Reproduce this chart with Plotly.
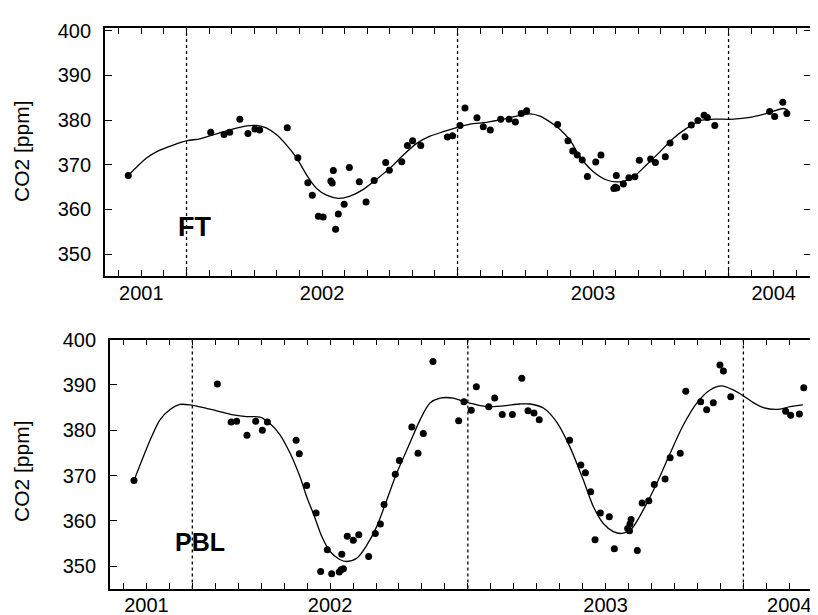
import plotly.graph_objects as go

# x = months relative to the first dotted line
tick_months = list(range(-3, 28))
year_label_months = [-2, 6, 18, 26]
year_labels = ["2001", "2002", "2003", "2004"]
dotted_months = [0, 12, 24]
y_ticks = [350, 360, 370, 380, 390, 400]

ft_x = [-2.58, 1.07, 1.66, 1.91, 2.36, 2.72, 3.03, 3.24, 4.46, 4.93, 5.37, 5.57, 5.84, 6.05,
        6.39, 6.45, 6.50, 6.60, 6.72, 6.98, 7.21, 7.65, 7.95, 8.31, 8.82, 8.98, 9.53, 9.78,
        10.01, 10.37, 11.55, 11.78, 12.11, 12.33, 12.86, 13.14, 13.45, 13.91, 14.28, 14.56,
        14.82, 15.06, 16.43, 16.89, 17.10, 17.30, 17.52, 17.75, 18.12, 18.35, 18.92, 18.98,
        19.05, 19.03, 19.34, 19.59, 19.85, 20.05, 20.55, 20.76, 21.20, 21.41, 22.07, 22.35,
        22.64, 22.92, 23.06, 23.39, 25.82, 26.04, 26.40, 26.58]
ft_y = [367.6, 377.3, 376.8, 377.3, 380.2, 377.0, 378.0, 377.8, 378.3, 371.6, 366.0, 363.2,
        358.5, 358.3, 366.4, 365.9, 368.7, 355.6, 359.0, 361.2, 369.4, 366.2, 361.7, 366.5,
        370.5, 368.8, 370.7, 374.3, 375.4, 374.3, 376.2, 376.5, 378.8, 382.7, 380.5, 378.5,
        377.8, 380.2, 380.2, 379.6, 381.5, 382.1, 379.0, 375.4, 373.1, 372.2, 371.1, 367.4,
        370.6, 372.2, 364.7, 365.0, 364.8, 367.6, 365.7, 367.1, 367.3, 371.0, 371.3, 370.5,
        371.8, 374.9, 376.3, 378.9, 379.9, 381.1, 380.6, 378.8, 381.9, 380.8, 384.0, 381.5]

ft_fit_x = [-2.58, -1.77, -1.25, -0.59, 0.03, 0.59, 1.18, 1.92, 2.66, 3.10, 3.55, 3.99, 4.43,
            4.88, 5.32, 5.76, 6.20, 6.72, 7.24, 7.83, 8.42, 9.00, 9.60, 10.19, 10.78, 11.37,
            11.96, 12.55, 13.29, 14.03, 14.62, 15.21, 15.65, 16.09, 16.54, 16.98, 17.42,
            18.00, 18.60, 19.19, 19.78, 20.37, 20.96, 21.55, 22.15, 22.74, 23.33, 24.21,
            24.95, 25.69, 26.43, 26.63]
ft_fit_y = [367.6, 371.5, 373.1, 374.4, 375.4, 375.8, 376.7, 377.8, 378.7, 378.8, 378.2, 376.7,
            374.4, 371.5, 367.7, 364.7, 363.2, 362.5, 363.0, 364.5, 366.8, 369.2, 372.2, 374.8,
            376.4, 377.4, 378.3, 379.1, 379.5, 380.2, 380.9, 381.4, 380.9, 379.6, 377.9, 375.5,
            371.8, 368.5, 366.6, 366.2, 367.3, 370.0, 372.9, 375.9, 378.2, 379.9, 380.2, 380.2,
            380.6, 381.5, 382.6, 382.2]

pbl_x = [-2.54, 1.09, 1.69, 1.93, 2.38, 2.76, 3.05, 3.27, 4.52, 4.66, 4.98, 5.39, 5.59, 5.88,
         6.07, 6.40, 6.48, 6.58, 6.51, 6.75, 7.01, 7.25, 7.68, 7.97, 8.19, 8.35, 8.84, 9.02,
         9.56, 9.83, 10.06, 10.48, 11.60, 11.83, 12.15, 12.37, 12.91, 13.17, 13.50, 13.94,
         14.35, 14.62, 14.88, 15.11, 16.43, 16.92, 17.12, 17.35, 17.54, 17.77, 18.16, 18.38,
         18.96, 19.04, 19.06, 19.11, 19.38, 19.59, 19.88, 20.12, 20.59, 20.81, 21.25, 21.49,
         22.14, 22.40, 22.69, 22.98, 23.13, 23.45, 25.84, 26.06, 26.44, 26.63]
pbl_y = [368.9, 390.2, 381.8, 382.0, 378.9, 382.0, 380.0, 381.8, 377.8, 374.8, 367.8, 361.7,
         348.8, 353.6, 348.3, 348.7, 349.2, 349.4, 352.6, 356.6, 355.7, 356.9, 352.1, 357.2,
         359.3, 363.6, 370.3, 373.3, 380.7, 374.9, 379.3, 395.2, 382.1, 386.3, 384.4, 389.6,
         385.2, 387.1, 383.5, 383.5, 391.5, 384.3, 383.8, 382.3, 377.8, 372.3, 370.6, 366.4,
         355.8, 361.7, 360.9, 353.8, 358.3, 357.8, 359.3, 360.3, 353.4, 363.9, 364.4, 368.0,
         369.2, 373.9, 374.9, 388.6, 386.3, 384.5, 386.1, 394.4, 393.1, 387.4, 384.2, 383.3,
         383.6, 389.4]

pbl_fit_x = [-2.54, -2.13, -1.77, -1.41, -0.97, -0.54, -0.10, 0.48, 1.06, 1.79, 2.37, 2.95,
             3.38, 3.82, 4.26, 4.69, 4.98, 5.27, 5.64, 6.00, 6.40, 6.72, 7.16, 7.60, 8.03,
             8.47, 8.90, 9.41, 9.92, 10.35, 10.79, 11.37, 11.80, 12.24, 12.82, 13.55, 14.27,
             14.71, 15.29, 15.87, 16.42, 17.03, 17.47, 17.90, 18.34, 18.70, 19.14, 19.64,
             20.23, 20.81, 21.39, 21.97, 22.55, 23.06, 23.56, 24.00, 24.43, 24.87, 25.45,
             26.04, 26.59]
pbl_fit_y = [368.9, 374.2, 378.6, 382.3, 384.6, 385.7, 385.6, 385.0, 384.3, 383.4, 383.0, 382.9,
             381.5, 379.0, 374.9, 369.7, 365.3, 361.6, 356.5, 353.2, 351.5, 351.0, 351.7, 354.6,
             358.7, 364.6, 370.5, 376.4, 382.3, 386.0, 387.1, 387.1, 386.4, 385.8, 385.2, 385.4,
             385.8, 385.8, 384.9, 381.8, 376.6, 369.0, 363.1, 359.4, 357.6, 357.2, 358.3, 362.4,
             368.3, 374.9, 381.2, 386.0, 388.9, 389.8, 388.9, 387.6, 386.1, 385.0, 384.6,
             385.2, 385.6]

# the page body has an 8px margin, so the figure is placed at (8, 8) in the window
OFF = 8
W, H = 818 - OFF, 615 - OFF
FONT = "Liberation Sans, Arial, sans-serif"


def fx(px):
    return (px - OFF) / W


def fy(py):
    return 1 - (py - OFF) / H


fig = go.Figure()

panels = [
    ("x", "y", ft_x, ft_y, ft_fit_x, ft_fit_y),
    ("x2", "y2", pbl_x, pbl_y, pbl_fit_x, pbl_fit_y),
]
for xa, ya, px, py, cx, cy in panels:
    fig.add_trace(go.Scatter(x=cx, y=cy, mode="lines", xaxis=xa, yaxis=ya,
                             line=dict(color="black", width=1.3, shape="spline", smoothing=0.8),
                             showlegend=False, hoverinfo="skip"))
    fig.add_trace(go.Scatter(x=px, y=py, mode="markers", xaxis=xa, yaxis=ya,
                             marker=dict(color="black", size=7),
                             showlegend=False))

tick_text = [year_labels[year_label_months.index(m)] if m in year_label_months else ""
             for m in tick_months]

xcommon = dict(tickmode="array", tickvals=tick_months, ticktext=tick_text,
               ticks="inside", ticklen=6, tickwidth=1.3, tickcolor="black",
               showline=True, linecolor="black", linewidth=1.8, mirror="ticks",
               showgrid=False, zeroline=False, automargin=False, ticklabelstandoff=-2,
               tickfont=dict(family=FONT, size=20, color="black"))
ycommon = dict(tickmode="array", tickvals=y_ticks,
               ticks="inside", ticklen=7, tickwidth=1.3, tickcolor="black",
               showline=True, linecolor="black", linewidth=1.8,
               showgrid=False, zeroline=False, automargin=False, ticklabelstandoff=8,
               tickfont=dict(family=FONT, size=20, color="black"))

fig.update_layout(
    width=W, height=H, autosize=False,
    margin=dict(l=0, r=0, t=0, b=0, autoexpand=False),
    paper_bgcolor="white", plot_bgcolor="white",
    xaxis=dict(domain=[fx(105), fx(811)], range=[-3.61, 27.65], anchor="y", **xcommon),
    yaxis=dict(domain=[fy(276), fy(28.3)], range=[345.12, 400.54], anchor="x",
               mirror="ticks", **ycommon),
    xaxis2=dict(domain=[fx(110), 1.0], range=[-3.585, 27.25], anchor="y2", **xcommon),
    yaxis2=dict(domain=[fy(588.5), fy(339.5)], range=[345.03, 400.05], anchor="x2",
                mirror=False, **ycommon),
)

shapes = []
for xr, yr in (("x", "y domain"), ("x2", "y2 domain")):
    for m in dotted_months:
        shapes.append(dict(type="line", xref=xr, yref=yr, x0=m, x1=m, y0=0, y1=1,
                           line=dict(color="black", width=1.3, dash="dot")))
fig.update_layout(shapes=shapes)

annotations = [
    dict(text="CO2 [ppm]", x=fx(22), y=fy(151), xref="paper", yref="paper",
         xanchor="center", yanchor="middle",
         textangle=-90, showarrow=False, font=dict(family=FONT, size=21, color="black")),
    dict(text="CO2 [ppm]", x=fx(22), y=fy(471), xref="paper", yref="paper",
         xanchor="center", yanchor="middle",
         textangle=-90, showarrow=False, font=dict(family=FONT, size=21, color="black")),
    dict(text="<b>FT</b>", x=fx(194), y=fy(227), xref="paper", yref="paper",
         xanchor="center", yanchor="middle",
         showarrow=False, font=dict(family=FONT, size=27, color="black")),
    dict(text="<b>PBL</b>", x=fx(200), y=fy(542), xref="paper", yref="paper",
         xanchor="center", yanchor="middle",
         showarrow=False, font=dict(family=FONT, size=25, color="black")),
]
fig.update_layout(annotations=annotations)

fig.write_html("out.html")
